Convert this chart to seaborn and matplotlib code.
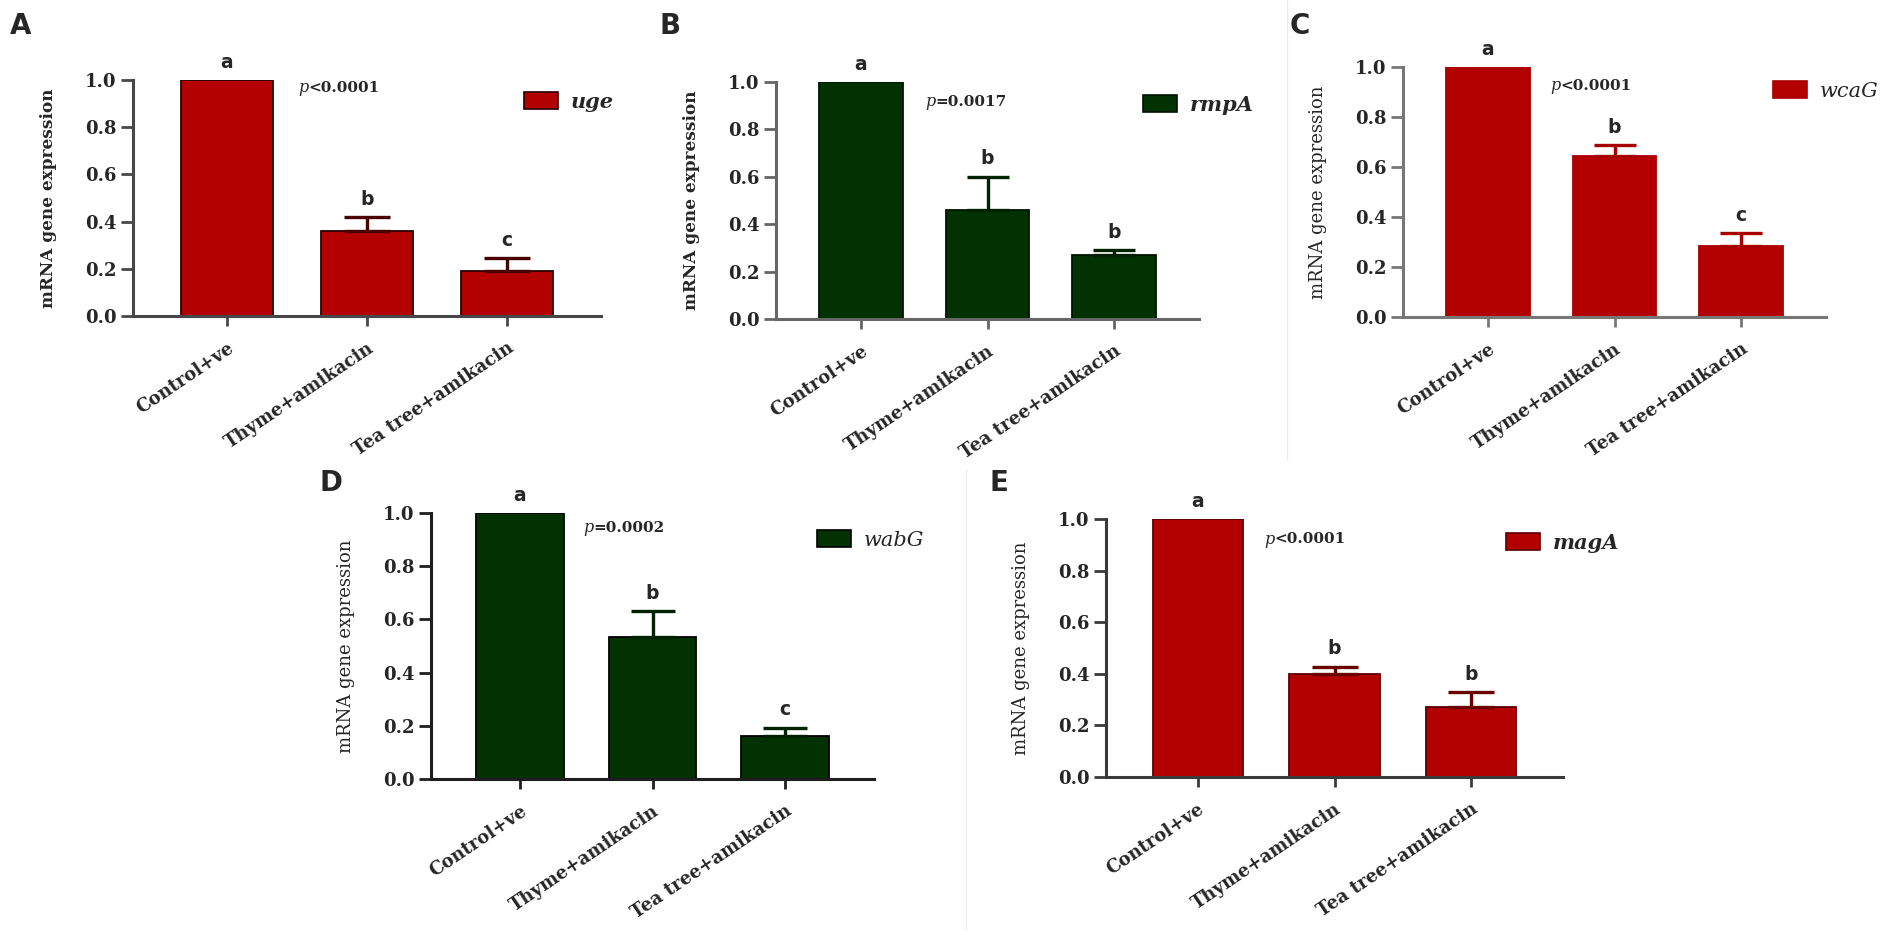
import matplotlib
matplotlib.use("Agg")
import matplotlib.pyplot as plt
import seaborn as sns
from matplotlib.patches import Patch

# data
groups = ["Control+ve", "Thyme+amikacin", "Tea tree+amikacin"]

uge_mean = [1.0, 0.36, 0.19]
uge_err = [0.0, 0.06, 0.055]
rmpA_mean = [1.0, 0.46, 0.27]
rmpA_err = [0.0, 0.14, 0.02]
wcaG_mean = [1.0, 0.645, 0.285]
wcaG_err = [0.0, 0.043, 0.05]
wabG_mean = [1.0, 0.535, 0.16]
wabG_err = [0.0, 0.095, 0.033]
magA_mean = [1.0, 0.40, 0.27]
magA_err = [0.0, 0.028, 0.06]

uge_letters = ["a", "b", "c"]
rmpA_letters = ["a", "b", "b"]
wcaG_letters = ["a", "b", "c"]
wabG_letters = ["a", "b", "c"]
magA_letters = ["a", "b", "b"]

p_texts = ["<0.0001", "=0.0017", "<0.0001", "=0.0002", "<0.0001"]
genes = ["uge", "rmpA", "wcaG", "wabG", "magA"]
panel_ids = ["A", "B", "C", "D", "E"]

RED = "#B30000"
GREEN = "#023102"

sns.set_style("ticks")
plt.rcParams["font.family"] = ["DejaVu Serif"]

W, H = 1902, 935
fig = plt.figure(figsize=(W / 100, H / 100), dpi=100)

# axes box in pixels (left, right, top, bottom), legend / p-text / panel label positions
panels = [
    dict(mean=uge_mean, err=uge_err, let=uge_letters, color=RED, edge="#2a0000", ecol="#4a0000",
         spine="#474747", box=(133, 601, 80, 316), leg=(524, 102), ptxt=(298, 88), lab=(10, 12),
         ybold=True, lbold=True),
    dict(mean=rmpA_mean, err=rmpA_err, let=rmpA_letters, color=GREEN, edge="#001400", ecol="#012201",
         spine="#666666", box=(776, 1199, 82, 319), leg=(1143, 105), ptxt=(925, 102), lab=(659, 12),
         ybold=True, lbold=True),
    dict(mean=wcaG_mean, err=wcaG_err, let=wcaG_letters, color=RED, edge="#a80000", ecol="#a80000",
         spine="#777777", box=(1403, 1826, 67, 317), leg=(1773, 91), ptxt=(1550, 86), lab=(1290, 12),
         ybold=False, lbold=False),
    dict(mean=wabG_mean, err=wabG_err, let=wabG_letters, color=GREEN, edge="#000000", ecol="#012201",
         spine="#1e1e1e", box=(431, 874, 513, 779), leg=(817, 540), ptxt=(583, 528), lab=(319, 469),
         ybold=False, lbold=False),
    dict(mean=magA_mean, err=magA_err, let=magA_letters, color=RED, edge="#5a0000", ecol="#6a0000",
         spine="#3a3a3a", box=(1106, 1563, 519, 777), leg=(1506, 543), ptxt=(1264, 539), lab=(989, 469),
         ybold=False, lbold=True),
]

for k, pnl in enumerate(panels):
    l, r, t, b = pnl["box"]
    ax = fig.add_axes([l / W, 1 - b / H, (r - l) / W, (b - t) / H])
    spacing = (r - l) / 3.34

    sns.barplot(x=groups, y=pnl["mean"], color=pnl["color"], saturation=1,
                edgecolor=pnl["edge"], linewidth=1.3, width=0.66, ax=ax)

    # upper error bars only
    xs = [i for i, e in enumerate(pnl["err"]) if e > 0]
    ax.errorbar(xs, [pnl["mean"][i] for i in xs],
                yerr=[[0] * len(xs), [pnl["err"][i] for i in xs]],
                fmt="none", ecolor=pnl["ecol"], elinewidth=2.4,
                capsize=0.165 * spacing / 1.389, capthick=2.4, zorder=1)

    for i, let in enumerate(pnl["let"]):
        ax.annotate(let, xy=(i, pnl["mean"][i] + pnl["err"][i]), xytext=(0, 6),
                    textcoords="offset points", ha="center", va="bottom",
                    fontsize=13.5, fontweight="bold", family="DejaVu Sans",
                    annotation_clip=False)

    ax.set_xlim(-0.67, 2.67)
    ax.set_ylim(0, 1.0)
    ax.set_yticks([0, 0.2, 0.4, 0.6, 0.8, 1.0])
    ax.set_yticklabels(["0.0", "0.2", "0.4", "0.6", "0.8", "1.0"])
    sns.despine(ax=ax)
    for s in ["left", "bottom"]:
        ax.spines[s].set_linewidth(2.2)
        ax.spines[s].set_color(pnl["spine"])
    ax.tick_params(axis="y", length=9, width=2, color=pnl["spine"], pad=3, labelsize=13)
    ax.tick_params(axis="x", length=7.5, width=2, color=pnl["spine"], pad=9, labelsize=13)
    for lbl in ax.get_yticklabels():
        lbl.set_fontweight("bold")
    for lbl in ax.get_xticklabels():
        lbl.set_fontweight("bold")
        lbl.set_rotation(34)
        lbl.set_ha("right")
        lbl.set_va("top")
        lbl.set_rotation_mode("anchor")

    ax.set_xlabel("")
    if pnl["ybold"]:
        ax.set_ylabel("mRNA gene expression", fontsize=12.2, fontweight="bold")
    else:
        ax.set_ylabel("mRNA gene expression", fontsize=13)
    ax.yaxis.set_label_coords(-76 / (r - l), 0.5)

    # legend
    lx, ly = pnl["leg"]
    ax.legend(handles=[Patch(facecolor=pnl["color"], edgecolor=pnl["edge"], linewidth=1.2)],
              labels=[genes[k]], loc="center left", bbox_to_anchor=(lx / W, 1 - ly / H),
              bbox_transform=fig.transFigure, frameon=False, borderpad=0, borderaxespad=0,
              handlelength=1.65, handleheight=0.85, handletextpad=0.6,
              prop=dict(family="DejaVu Serif", style="italic", size=15,
                        weight="bold" if pnl["lbold"] else "normal"))

    # p value
    px, py = pnl["ptxt"]
    pt = fig.text(px / W, 1 - py / H, "p", fontsize=11.5, style="italic",
                  family="DejaVu Serif", va="center", ha="left")
    ax.annotate(p_texts[k], xy=(1, 0.5), xycoords=pt, va="center", ha="left",
                fontsize=11, fontweight="bold", family="DejaVu Serif",
                annotation_clip=False)

    # panel letter
    fx, fy = pnl["lab"]
    fig.text(fx / W, 1 - fy / H, panel_ids[k], fontsize=20, fontweight="bold",
             family="DejaVu Sans", va="top", ha="left")

# faint separators
fig.add_artist(plt.Line2D([1287 / W, 1287 / W], [1.0, 1 - 460 / H], color="#ececec", lw=1))
fig.add_artist(plt.Line2D([966 / W, 966 / W], [1 - 470 / H, 1 - 930 / H], color="#f0f0f0", lw=1))

fig.savefig("out.png", dpi=100)
